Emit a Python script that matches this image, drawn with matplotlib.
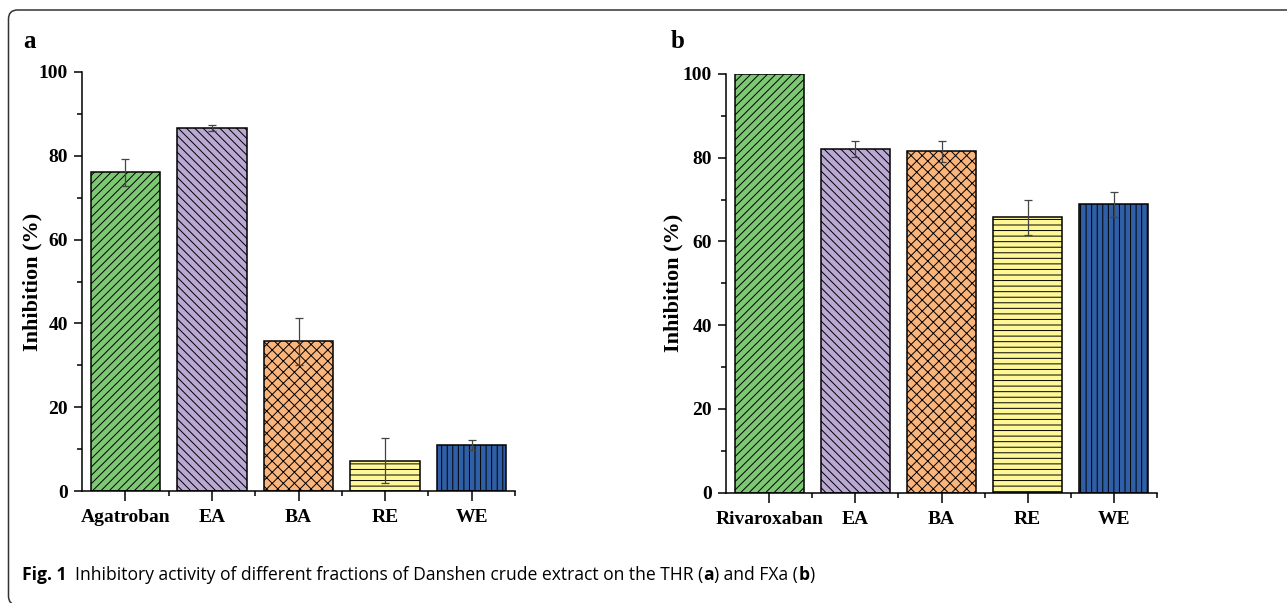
import matplotlib
matplotlib.use('Agg')
import matplotlib.pyplot as plt
from matplotlib.patches import PathPatch
from matplotlib.path import Path
from matplotlib.ticker import FixedLocator

# ---------------- data ----------------
cats_a = ['Agatroban', 'EA', 'BA', 'RE', 'WE']
vals_a = [76.1, 86.6, 35.7, 7.2, 11.05]
err_a = [3.2, 0.8, 5.6, 5.4, 1.2]

cats_b = ['Rivaroxaban', 'EA', 'BA', 'RE', 'WE']
vals_b = [100.0, 82.0, 81.5, 65.8, 68.9]
err_b = [0.0, 1.9, 2.4, 4.2, 3.0]

yticks = [0, 20, 40, 60, 80, 100]
colors = ['#7DC873', '#BAA9D3', '#F9B57C', '#FFF897', '#2F5FA7']
hatches = ['////', '\\\\\\\\', 'xxx', '---', '|||']

caption_parts = [('Fig. 1', True),
                 ('  Inhibitory activity of different fractions of Danshen crude extract on the THR (', False),
                 ('a', True), (') and FXa (', False), ('b', True), (')', False)]

# ---------------- style ----------------
W, H = 1287, 603
plt.rcParams['font.family'] = ['Liberation Serif', 'DejaVu Serif']
plt.rcParams['font.weight'] = 'bold'
plt.rcParams['hatch.linewidth'] = 0.7
plt.rcParams['axes.linewidth'] = 1.1

fig = plt.figure(figsize=(W / 100, H / 100), dpi=100)

# open rounded frame (left side, top side), pixel coords from top-left
fx, fy, r, fb = 8.5, 10.0, 9.0, 605.0
pts = [(fx + r, fb), (fx, fb), (fx, fb - r),
       (fx, fy + r), (fx, fy), (fx + r, fy), (1300.0, fy)]
codes = [Path.MOVETO, Path.CURVE3, Path.CURVE3,
         Path.LINETO, Path.CURVE3, Path.CURVE3, Path.LINETO]
pts_fig = [(px / W, 1 - py / H) for px, py in pts]
frame = PathPatch(Path(pts_fig, codes), transform=fig.transFigure,
                  fill=False, edgecolor='#333333', linewidth=1.1)
fig.patches.append(frame)


def panel(rect, cats, vals, errs, label_x):
    ax = fig.add_axes(rect)
    x = list(range(len(cats)))
    for i in x:
        ax.bar(i, vals[i], width=0.8, color=colors[i], edgecolor='black',
               linewidth=1.1, hatch=hatches[i], zorder=2)
        if errs[i] > 0:
            ax.errorbar(i, vals[i], yerr=errs[i], fmt='none', ecolor='#444444',
                        elinewidth=0.9, capsize=3, capthick=0.9, zorder=3)
    ax.set_xlim(-0.5, 4.5)
    ax.set_ylim(0, 100)
    ax.spines['top'].set_visible(False)
    ax.spines['right'].set_visible(False)
    ax.set_xticks(x)
    ax.set_xticklabels(cats, fontsize=14, fontweight='bold')
    ax.xaxis.set_minor_locator(FixedLocator([0.5, 1.5, 2.5, 3.5, 4.5]))
    ax.set_yticks(yticks)
    ax.set_yticklabels([str(v) for v in yticks], fontsize=14, fontweight='bold')
    ax.yaxis.set_minor_locator(FixedLocator([10, 30, 50, 70, 90]))
    ax.tick_params(axis='x', which='major', direction='out', length=7, width=1.1, pad=6)
    ax.tick_params(axis='x', which='minor', direction='out', length=3.5, width=1.1)
    ax.tick_params(axis='y', which='major', direction='out', length=6, width=1.1, pad=4)
    ax.tick_params(axis='y', which='minor', direction='out', length=3.5, width=1.1)
    ax.text(label_x, 0.5, 'Inhibition (%)', rotation=90, ha='center', va='center',
            transform=ax.transAxes, fontsize=16, fontweight='bold')
    return ax


axa = panel([82 / W, 1 - 491 / H, (515 - 82) / W, (491 - 72) / H],
            cats_a, vals_a, err_a, -0.115)
axb = panel([726 / W, 1 - 492.7 / H, (1157 - 726) / W, (492.7 - 74) / H],
            cats_b, vals_b, err_b, -0.123)

fig.text(23 / W, 1 - 48 / H, 'a', fontsize=18, fontweight='bold', va='baseline', ha='left')
fig.text(671 / W, 1 - 48 / H, 'b', fontsize=18, fontweight='bold', va='baseline', ha='left')

# ---------------- caption ----------------
renderer = fig.canvas.get_renderer()
cap_family = ['Open Sans', 'DejaVu Sans']


def measure(txt, bold, size):
    t1 = fig.text(0, 0, 'X' + txt + 'X', fontsize=size, family=cap_family,
                  fontweight='bold' if bold else 'normal')
    t2 = fig.text(0, 0, 'XX', fontsize=size, family=cap_family,
                  fontweight='bold' if bold else 'normal')
    w = t1.get_window_extent(renderer).width - t2.get_window_extent(renderer).width
    t1.remove()
    t2.remove()
    return w


base = 10.0
total = sum(measure(t, b, base) for t, b in caption_parts)
size = base * 794.0 / total
xpos = 22.0
for t, b in caption_parts:
    fig.text(xpos / W, 1 - 580 / H, t, fontsize=size, family=cap_family,
             fontweight='bold' if b else 'normal', va='baseline', ha='left')
    xpos += measure(t, b, size)

fig.savefig('out.png', dpi=100)
